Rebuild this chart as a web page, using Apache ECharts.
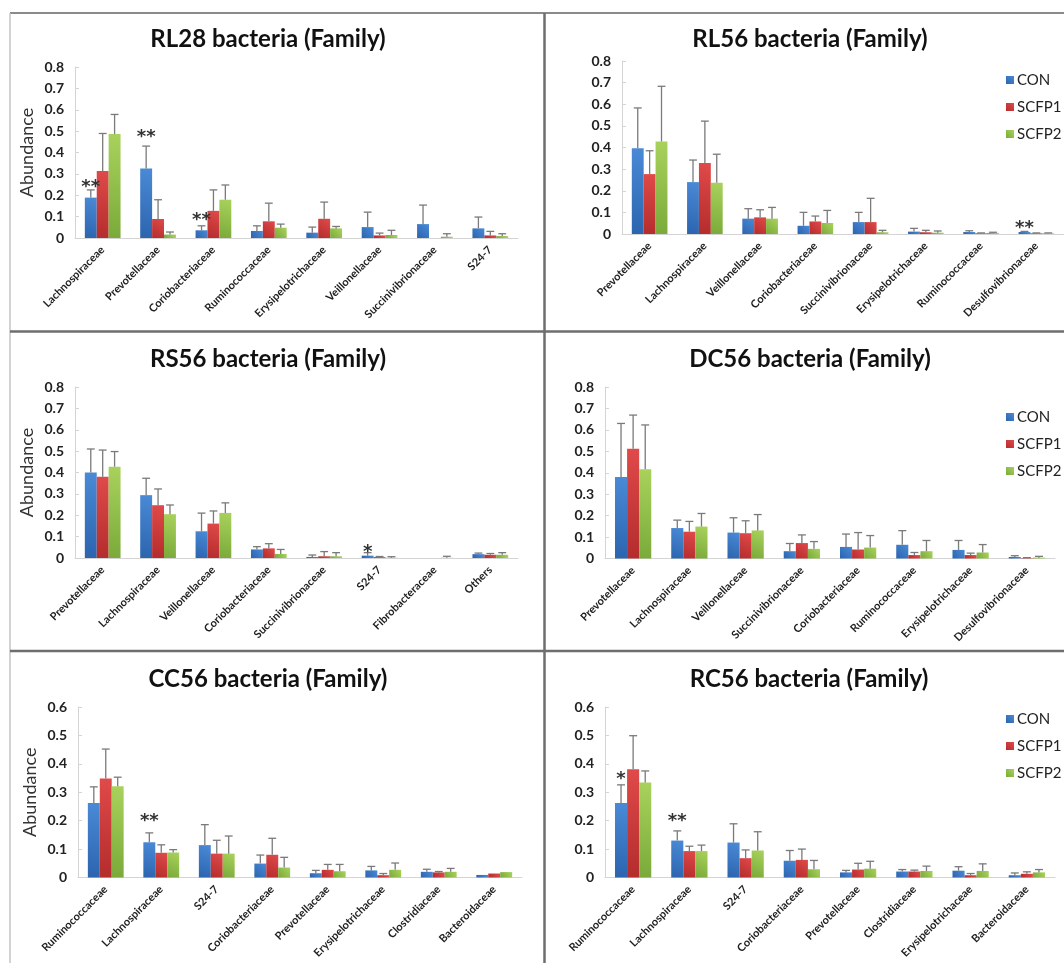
<!DOCTYPE html>
<html>
<head>
<meta charset="utf-8">
<script src="https://cdn.jsdelivr.net/npm/echarts@6/dist/echarts.min.js"></script>
<style>
  html, body { margin: 0; padding: 0; background: #ffffff; }
  #chart { width: 1064px; height: 963px; }
</style>
</head>
<body>
<div id="chart"></div>
<script>
// ---------------- DATA ----------------
const seriesNames = ['CON', 'SCFP1', 'SCFP2'];

// RL28
const rl28Categories = ['Lachnospiraceae','Prevotellaceae','Coriobacteriaceae','Ruminococcaceae','Erysipelotrichaceae','Veillonellaceae','Succinivibrionaceae','S24-7'];
const rl28CON        = [0.189, 0.325, 0.036, 0.033, 0.025, 0.051, 0.065, 0.045];
const rl28CONUpper   = [0.225, 0.430, 0.057, 0.057, 0.051, 0.121, 0.154, 0.098];
const rl28SCFP1      = [0.314, 0.089, 0.127, 0.078, 0.090, 0.012, 0.000, 0.012];
const rl28SCFP1Upper = [0.489, 0.179, 0.225, 0.163, 0.168, 0.023, 0.000, 0.031];
const rl28SCFP2      = [0.486, 0.016, 0.179, 0.048, 0.045, 0.014, 0.006, 0.009];
const rl28SCFP2Upper = [0.578, 0.028, 0.248, 0.065, 0.054, 0.036, 0.020, 0.020];
const rl28Marks      = [[0, 0.258, '**'], [1, 0.49, '**'], [2, 0.10, '**']];

// RL56
const rl56Categories = ['Prevotellaceae','Lachnospiraceae','Veillonellaceae','Coriobacteriaceae','Succinivibrionaceae','Erysipelotrichaceae','Ruminococcaceae','Desulfovibrionaceae'];
const rl56CON        = [0.397, 0.240, 0.071, 0.038, 0.055, 0.011, 0.009, 0.009];
const rl56CONUpper   = [0.583, 0.342, 0.117, 0.100, 0.100, 0.026, 0.015, 0.012];
const rl56SCFP1      = [0.277, 0.328, 0.077, 0.058, 0.055, 0.008, 0.003, 0.003];
const rl56SCFP1Upper = [0.385, 0.522, 0.112, 0.083, 0.165, 0.017, 0.005, 0.005];
const rl56SCFP2      = [0.428, 0.237, 0.071, 0.051, 0.008, 0.006, 0.005, 0.003];
const rl56SCFP2Upper = [0.683, 0.369, 0.123, 0.109, 0.017, 0.014, 0.008, 0.005];
const rl56Marks      = [[7, 0.043, '**']];

// RS56
const rs56Categories = ['Prevotellaceae','Lachnospiraceae','Veillonellaceae','Coriobacteriaceae','Succinivibrionaceae','S24-7','Fibrobacteraceae','Others'];
const rs56CON        = [0.400, 0.294, 0.125, 0.040, 0.005, 0.011, 0.000, 0.018];
const rs56CONUpper   = [0.510, 0.373, 0.210, 0.053, 0.014, 0.025, 0.000, 0.023];
const rs56SCFP1      = [0.380, 0.247, 0.161, 0.045, 0.008, 0.004, 0.000, 0.015];
const rs56SCFP1Upper = [0.505, 0.323, 0.220, 0.067, 0.030, 0.007, 0.000, 0.021];
const rs56SCFP2      = [0.427, 0.205, 0.211, 0.019, 0.008, 0.001, 0.001, 0.015];
const rs56SCFP2Upper = [0.498, 0.248, 0.258, 0.040, 0.025, 0.006, 0.008, 0.025];
const rs56Marks      = [[5, 0.045, '*']];

// DC56
const dc56Categories = ['Prevotellaceae','Lachnospiraceae','Veillonellaceae','Succinivibrionaceae','Coriobacteriaceae','Ruminococcaceae','Erysipelotrichaceae','Desulfovibrionaceae'];
const dc56CON        = [0.380, 0.142, 0.121, 0.034, 0.054, 0.064, 0.040, 0.007];
const dc56CONUpper   = [0.630, 0.179, 0.190, 0.070, 0.114, 0.130, 0.084, 0.013];
const dc56SCFP1      = [0.512, 0.125, 0.118, 0.072, 0.042, 0.016, 0.016, 0.002];
const dc56SCFP1Upper = [0.669, 0.173, 0.176, 0.110, 0.121, 0.028, 0.025, 0.004];
const dc56SCFP2      = [0.416, 0.149, 0.131, 0.045, 0.051, 0.034, 0.028, 0.004];
const dc56SCFP2Upper = [0.623, 0.210, 0.205, 0.079, 0.107, 0.084, 0.065, 0.010];
const dc56Marks      = [];

// CC56
const cc56Categories = ['Ruminococcaceae','Lachnospiraceae','S24-7','Coriobacteriaceae','Prevotellaceae','Erysipelotrichaceae','Clostridiaceae','Bacteroidaceae'];
const cc56CON        = [0.2625, 0.124, 0.114, 0.049, 0.015, 0.025, 0.020, 0.009];
const cc56CONUpper   = [0.319, 0.157, 0.186, 0.079, 0.025, 0.039, 0.029, 0.009];
const cc56SCFP1      = [0.348, 0.087, 0.084, 0.080, 0.027, 0.008, 0.018, 0.014];
const cc56SCFP1Upper = [0.452, 0.115, 0.131, 0.138, 0.046, 0.014, 0.021, 0.014];
const cc56SCFP2      = [0.321, 0.088, 0.084, 0.035, 0.022, 0.027, 0.020, 0.019];
const cc56SCFP2Upper = [0.353, 0.098, 0.146, 0.071, 0.046, 0.051, 0.032, 0.019];
const cc56Marks      = [[1, 0.213, '**']];

// RC56
const rc56Categories = ['Ruminococcaceae','Lachnospiraceae','S24-7','Coriobacteriaceae','Prevotellaceae','Clostridiaceae','Erysipelotrichaceae','Bacteroidaceae'];
const rc56CON        = [0.2625, 0.130, 0.123, 0.059, 0.018, 0.021, 0.024, 0.008];
const rc56CONUpper   = [0.326, 0.164, 0.189, 0.095, 0.025, 0.028, 0.038, 0.016];
const rc56SCFP1      = [0.381, 0.093, 0.068, 0.062, 0.028, 0.021, 0.008, 0.013];
const rc56SCFP1Upper = [0.499, 0.110, 0.097, 0.100, 0.050, 0.026, 0.014, 0.020];
const rc56SCFP2      = [0.334, 0.093, 0.095, 0.029, 0.031, 0.023, 0.023, 0.018];
const rc56SCFP2Upper = [0.375, 0.114, 0.161, 0.060, 0.057, 0.040, 0.048, 0.028];
const rc56Marks      = [[0, 0.36, '*'], [1, 0.213, '**']];

const yMaxLarge = 0.8;   // RL28, RL56, RS56, DC56
const yMaxSmall = 0.6;   // CC56, RC56
const yInterval = 0.1;

// --------------- PANELS (data + layout) ---------------
const panels = [
  { title: 'RL28 bacteria (Family)', cats: rl28Categories, vals: [rl28CON, rl28SCFP1, rl28SCFP2], ups: [rl28CONUpper, rl28SCFP1Upper, rl28SCFP2Upper], marks: rl28Marks, yMax: yMaxLarge,
    grid: { left: 75, top: 67, width: 443, height: 171 }, titleX: 268, titleY: 42, yName: true, legendTop: null },
  { title: 'RL56 bacteria (Family)', cats: rl56Categories, vals: [rl56CON, rl56SCFP1, rl56SCFP2], ups: [rl56CONUpper, rl56SCFP1Upper, rl56SCFP2Upper], marks: rl56Marks, yMax: yMaxLarge,
    grid: { left: 622, top: 61, width: 450, height: 173 }, titleX: 810, titleY: 42, yName: false, legendTop: 72 },
  { title: 'RS56 bacteria (Family)', cats: rs56Categories, vals: [rs56CON, rs56SCFP1, rs56SCFP2], ups: [rs56CONUpper, rs56SCFP1Upper, rs56SCFP2Upper], marks: rs56Marks, yMax: yMaxLarge,
    grid: { left: 75, top: 387, width: 443, height: 171 }, titleX: 268, titleY: 362, yName: true, legendTop: null },
  { title: 'DC56 bacteria (Family)', cats: dc56Categories, vals: [dc56CON, dc56SCFP1, dc56SCFP2], ups: [dc56CONUpper, dc56SCFP1Upper, dc56SCFP2Upper], marks: dc56Marks, yMax: yMaxLarge,
    grid: { left: 605, top: 387, width: 450, height: 171.5 }, titleX: 810, titleY: 362, yName: false, legendTop: 409 },
  { title: 'CC56 bacteria (Family)', cats: cc56Categories, vals: [cc56CON, cc56SCFP1, cc56SCFP2], ups: [cc56CONUpper, cc56SCFP1Upper, cc56SCFP2Upper], marks: cc56Marks, yMax: yMaxSmall,
    grid: { left: 78, top: 707, width: 444, height: 170.5 }, titleX: 268, titleY: 682, yName: true, legendTop: null },
  { title: 'RC56 bacteria (Family)', cats: rc56Categories, vals: [rc56CON, rc56SCFP1, rc56SCFP2], ups: [rc56CONUpper, rc56SCFP1Upper, rc56SCFP2Upper], marks: rc56Marks, yMax: yMaxSmall,
    grid: { left: 605, top: 707, width: 450, height: 170.5 }, titleX: 809, titleY: 682, yName: false, legendTop: 711 }
];

// --------------- STYLE ---------------
const FONT = 'Lato, "Open Sans", "DejaVu Sans", sans-serif';
function grad(light, dark) {
  return new echarts.graphic.LinearGradient(1, 0, 0, 1, [
    { offset: 0, color: light }, { offset: 1, color: dark }
  ]);
}
const barColors = [
  grad('#4a8ad6', '#2c64ae'),
  grad('#e04a4a', '#b42c2c'),
  grad('#a9d25c', '#7aaa3a')
];
const BAR_FRAC = 0.215;
const ERR_COLOR = '#7a7a7a';

const option = {
  animation: false,
  backgroundColor: '#ffffff',
  textStyle: { fontFamily: FONT },
  title: [], grid: [], xAxis: [], yAxis: [], legend: [], series: [],
  graphic: []
};

panels.forEach((p, gi) => {
  option.title.push({
    text: p.title, left: p.titleX, top: p.titleY - 15, textAlign: 'center', padding: 0,
    textStyle: { fontFamily: FONT, fontSize: 24, fontWeight: 'bold', color: '#111' }
  });
  option.grid.push(Object.assign({ containLabel: false }, p.grid));
  option.xAxis.push({
    type: 'category', gridIndex: gi, data: p.cats,
    axisLine: { lineStyle: { color: '#d4d4d4', width: 1 } },
    axisTick: { show: false },
    axisLabel: { interval: 0, rotate: 45, margin: 10, fontSize: 11, fontWeight: 'bold', color: '#1e1e1e', fontFamily: FONT }
  });
  option.yAxis.push({
    type: 'value', gridIndex: gi, min: 0, max: p.yMax, interval: yInterval,
    name: p.yName ? 'Abundance' : '', nameLocation: 'middle', nameGap: 39,
    nameTextStyle: { fontSize: 18, color: '#333', fontFamily: FONT },
    splitLine: { show: false },
    axisLine: { show: true, lineStyle: { color: '#d4d4d4', width: 1 } },
    axisTick: { show: true, inside: true, length: 4, lineStyle: { color: '#d4d4d4' } },
    axisLabel: { fontSize: 14, fontWeight: 'bold', color: '#222', margin: 11, fontFamily: FONT,
      formatter: v => (v === 0 ? '0' : v.toFixed(1)) }
  });
  if (p.legendTop !== null) {
    option.legend.push({
      data: seriesNames, orient: 'vertical', left: 1006, top: p.legendTop, padding: 0,
      itemWidth: 8, itemHeight: 8, itemGap: 11, icon: 'rect',
      textStyle: { fontSize: 15, color: '#222', fontFamily: FONT, lineHeight: 16, padding: [0, 0, 0, -2] }
    });
  }
  seriesNames.forEach((name, si) => {
    option.series.push({
      type: 'bar', name: name, xAxisIndex: gi, yAxisIndex: gi,
      data: p.vals[si], barWidth: (BAR_FRAC * 100) + '%', barGap: '0%',
      itemStyle: { color: barColors[si] },
      z: 2
    });
  });
  // error bars (upper only, with cap)
  seriesNames.forEach((name, si) => {
    const errData = p.cats.map((c, i) => [i, p.vals[si][i], p.ups[si][i]]);
    option.series.push({
      type: 'custom', name: name + ' error', xAxisIndex: gi, yAxisIndex: gi,
      data: errData, z: 3, silent: true,
      renderItem: (params, api) => {
        const v = api.value(1), up = api.value(2);
        if (!(up > v)) return null;
        const bw = api.size([1, 0])[0];
        const off = (si - 1) * bw * BAR_FRAC;
        const base = api.coord([api.value(0), v]);
        const top = api.coord([api.value(0), up]);
        const x = base[0] + off;
        const cap = bw * BAR_FRAC * 0.33;
        return {
          type: 'group', children: [
            { type: 'line', shape: { x1: x, y1: base[1], x2: x, y2: top[1] }, style: { stroke: ERR_COLOR, lineWidth: 1.3 } },
            { type: 'line', shape: { x1: x - cap, y1: top[1], x2: x + cap, y2: top[1] }, style: { stroke: ERR_COLOR, lineWidth: 1.3 } }
          ]
        };
      }
    });
  });
  // significance marks
  if (p.marks.length) {
    option.series.push({
      type: 'custom', name: 'sig', xAxisIndex: gi, yAxisIndex: gi, silent: true, z: 4,
      data: p.marks.map(m => [m[0], m[1]]),
      renderItem: (params, api) => {
        const bw = api.size([1, 0])[0];
        const pt = api.coord([api.value(0), api.value(1)]);
        return {
          type: 'text', x: pt[0] - bw * BAR_FRAC, y: pt[1] + 4,
          style: { text: p.marks[params.dataIndex][2], fontSize: 18, fontWeight: 'bold', fill: '#333', align: 'center', verticalAlign: 'middle', fontFamily: '"DejaVu Sans", sans-serif' }
        };
      }
    });
  }
});

// panel frame lines
const frame = [
  { x1: 10, y1: 13, x2: 1064, y2: 13, c: '#8a8a8a', w: 2 },
  { x1: 10, y1: 13, x2: 10, y2: 963, c: '#c4c4c4', w: 1.5 },
  { x1: 544.5, y1: 13, x2: 544.5, y2: 963, c: '#6e6e6e', w: 2.5 },
  { x1: 10, y1: 331.5, x2: 1064, y2: 331.5, c: '#6e6e6e', w: 2.5 },
  { x1: 10, y1: 651, x2: 1064, y2: 651, c: '#6e6e6e', w: 2.5 }
];
frame.forEach(f => option.graphic.push({
  type: 'line', silent: true, z: 10,
  shape: { x1: f.x1, y1: f.y1, x2: f.x2, y2: f.y2 },
  style: { stroke: f.c, lineWidth: f.w }
}));

const chart = echarts.init(document.getElementById('chart'), null, { renderer: 'canvas' });
chart.setOption(option);
</script>
</body>
</html>
